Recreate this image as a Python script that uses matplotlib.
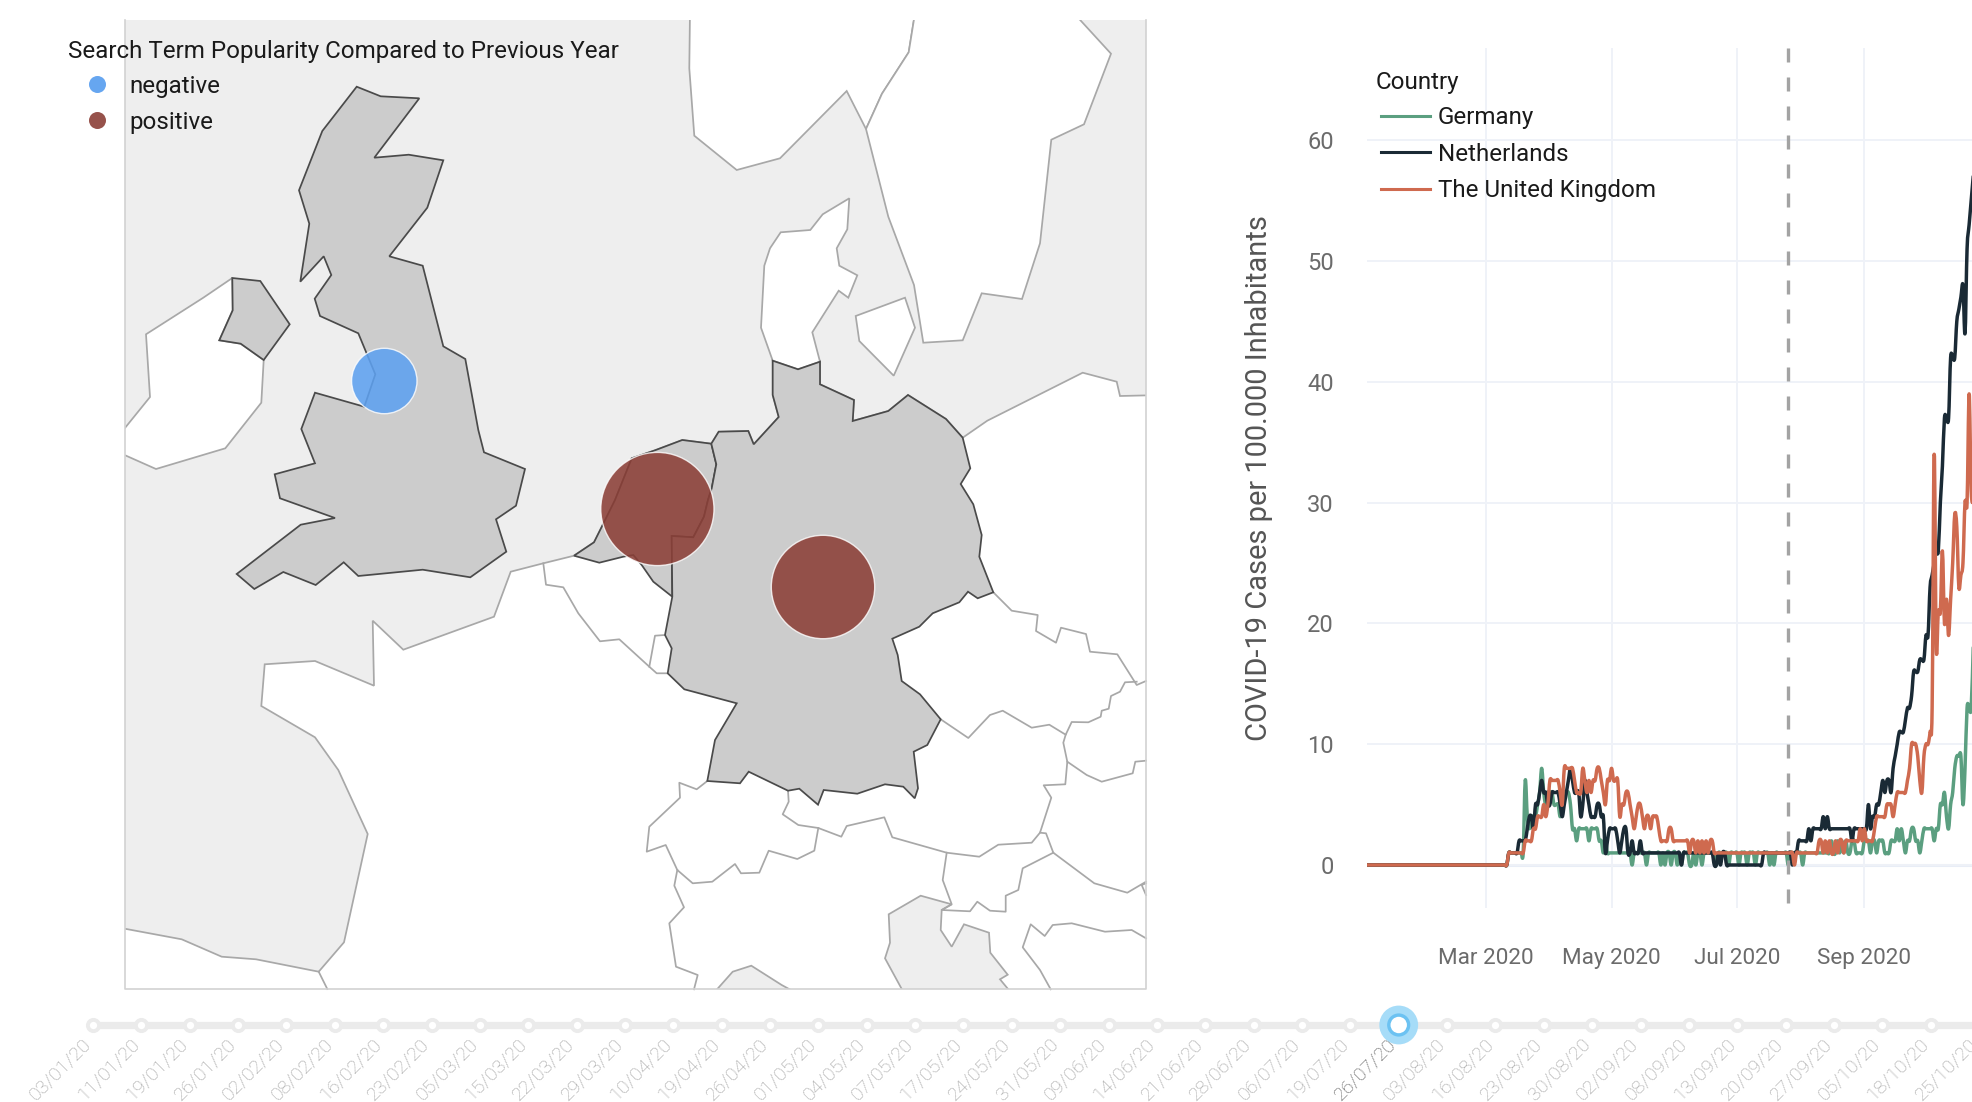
import matplotlib
matplotlib.use("Agg")
import matplotlib.pyplot as plt
import matplotlib.dates as mdates
import numpy as np
import pandas as pd
from matplotlib.patches import Circle, PathPatch, Polygon, Rectangle
from matplotlib.path import Path

plt.rcParams['font.family'] = ['Roboto', 'DejaVu Sans']

# covid cases per day from 1 March 2020, before that everything is 0
DAYS_BEFORE_MARCH = 58
germany_cases = [
    0, 0, 0, 0, 0, 0, 0, 0, 0, 0,
    0, 1, 1, 1, 1, 1, 1, 1, 1, 7,
    4, 3, 4, 4, 4, 5, 6, 8, 6, 5,
    6, 6, 6, 5, 5, 5, 4, 5, 6, 6,
    6, 5, 3, 3, 2, 3, 3, 3, 3, 3,
    2, 3, 3, 3, 3, 2, 2, 1, 2, 1,
    1, 1, 1, 1, 1, 1, 1, 1, 1, 1,
    1, 0, 1, 1, 1, 1, 1, 1, 0, 1,
    1, 1, 1, 1, 1, 0, 1, 0, 1, 1,
    0, 1, 1, 0, 1, 0, 1, 1, 1, 0,
    0, 1, 0, 1, 1, 0, 1, 1, 1, 1,
    1, 1, 0, 1, 1, 1, 1, 1, 0, 1,
    1, 1, 1, 0, 1, 1, 1, 0, 1, 1,
    1, 0, 1, 1, 1, 1, 1, 1, 0, 1,
    0, 1, 1, 1, 1, 1, 1, 0, 1, 1,
    1, 1, 1, 1, 0, 1, 1, 1, 1, 1,
    1, 1, 1, 1, 1, 1, 1, 1, 2, 1,
    1, 2, 1, 2, 1, 2, 1, 1, 2, 2,
    1, 1, 1, 1, 2, 2, 2, 1, 2, 2,
    1, 2, 2, 2, 1, 1, 1, 2, 2, 2,
    3, 2, 3, 2, 1, 2, 2, 3, 3, 2,
    2, 1, 2, 3, 3, 3, 3, 3, 2, 3,
    3, 5, 5, 6, 4, 3, 5, 6, 8, 9,
    9, 9, 5, 8, 13, 13, 13, 18,
]
netherlands_cases = [
    0, 0, 0, 0, 0, 0, 0, 0, 0, 0,
    0, 1, 1, 1, 1, 1, 2, 2, 2, 2,
    3, 4, 4, 3, 5, 5, 6, 7, 6, 6,
    5, 5, 6, 6, 6, 6, 5, 4, 5, 6,
    7, 8, 7, 6, 6, 6, 4, 5, 7, 6,
    5, 4, 4, 4, 5, 5, 4, 4, 1, 2,
    3, 3, 3, 3, 2, 1, 2, 3, 3, 1,
    1, 2, 1, 1, 1, 2, 1, 1, 1, 1,
    1, 1, 1, 1, 1, 1, 1, 1, 1, 1,
    1, 1, 1, 1, 1, 0, 1, 1, 1, 1,
    1, 1, 1, 1, 1, 1, 1, 1, 1, 1,
    1, 0, 0, 1, 0, 1, 1, 0, 0, 0,
    0, 0, 0, 0, 0, 0, 0, 0, 0, 0,
    0, 0, 0, 0, 0, 1, 1, 1, 1, 1,
    1, 1, 1, 1, 1, 1, 1, 1, 1, 0,
    1, 1, 2, 2, 2, 2, 2, 3, 2, 3,
    3, 3, 3, 3, 4, 3, 4, 3, 3, 3,
    3, 3, 3, 3, 3, 3, 3, 3, 2, 3,
    3, 3, 3, 3, 3, 3, 5, 3, 4, 4,
    5, 5, 6, 7, 6, 7, 7, 6, 8, 9,
    10, 11, 11, 11, 12, 13, 13, 14, 16, 16,
    16, 17, 17, 17, 19, 19, 23, 24, 25, 26,
    26, 30, 33, 37, 37, 37, 42, 42, 42, 45,
    46, 47, 48, 44, 51, 53, 55, 57,
]
uk_cases = [
    0, 0, 0, 0, 0, 0, 0, 0, 0, 0,
    0, 1, 1, 1, 1, 1, 1, 1, 1, 2,
    2, 2, 2, 3, 3, 4, 4, 4, 5, 4,
    5, 7, 7, 7, 7, 7, 6, 5, 8, 8,
    8, 8, 8, 7, 6, 6, 6, 8, 7, 6,
    7, 6, 7, 7, 8, 8, 7, 6, 5, 7,
    7, 8, 7, 7, 7, 4, 5, 5, 6, 6,
    5, 4, 3, 4, 5, 5, 4, 3, 4, 4,
    3, 4, 4, 4, 3, 2, 2, 2, 2, 3,
    3, 2, 2, 2, 2, 2, 2, 2, 2, 1,
    2, 2, 1, 2, 1, 2, 1, 2, 1, 2,
    2, 1, 1, 1, 1, 1, 1, 1, 1, 1,
    1, 1, 1, 1, 1, 1, 1, 1, 1, 1,
    1, 1, 1, 1, 1, 1, 1, 1, 1, 1,
    1, 1, 1, 1, 1, 1, 1, 1, 1, 1,
    0, 1, 1, 1, 1, 1, 1, 1, 1, 1,
    1, 1, 2, 2, 1, 2, 1, 2, 1, 1,
    2, 1, 2, 2, 1, 2, 2, 2, 2, 2,
    2, 2, 3, 2, 3, 2, 2, 2, 2, 3,
    4, 4, 4, 4, 4, 5, 5, 5, 4, 5,
    6, 6, 6, 6, 6, 7, 8, 10, 10, 10,
    9, 7, 6, 9, 10, 10, 11, 13, 34, 18,
    21, 21, 26, 20, 22, 19, 22, 25, 29, 28,
    23, 24, 25, 30, 30, 39, 31, 30,
]
countries = ['Germany', 'Netherlands', 'The United Kingdom']
y_ticks = [0, 10, 20, 30, 40, 50, 60]
x_ticks = ['2020-03-01', '2020-05-01', '2020-07-01', '2020-09-01']
x_tick_labels = ['Mar 2020', 'May 2020', 'Jul 2020', 'Sep 2020']

slider_labels = ['03/01/20', '11/01/20', '19/01/20', '26/01/20', '02/02/20', '08/02/20', '16/02/20', '23/02/20',
                 '05/03/20', '15/03/20', '22/03/20', '29/03/20', '10/04/20', '19/04/20', '26/04/20', '01/05/20',
                 '04/05/20', '07/05/20', '17/05/20', '24/05/20', '31/05/20', '09/06/20', '14/06/20', '21/06/20',
                 '28/06/20', '06/07/20', '19/07/20', '26/07/20', '03/08/20', '16/08/20', '23/08/20', '30/08/20',
                 '02/09/20', '08/09/20', '13/09/20', '20/09/20', '27/09/20', '05/10/20', '18/10/20', '25/10/20']
ACTIVE = 27

# map outlines, traced in picture pixels
uk = [(356.7, 86.7), (380.7, 96.3), (419.3, 98.3), (374.3, 157.7), (408.7, 154.7), (443.3, 160.3), (427.3, 207.7),
      (389.3, 256.3), (422.7, 265.7), (443.3, 346.3), (465.3, 359), (478.3, 430), (484, 452.3), (525, 469),
      (516, 505.7), (496, 519.3), (506.3, 551.7), (470.3, 577.3), (422.7, 569.7), (358.3, 576), (343.7, 562.3),
      (315.7, 585), (283.3, 572), (254.3, 589), (236.7, 574), (300.7, 524.7), (335, 518), (280, 498.3),
      (274.7, 474.3), (315, 463.3), (301.3, 429), (315, 392.7), (364.3, 406.7), (375.3, 374.3), (358.3, 333.3),
      (320, 316), (314.7, 298.7), (331.3, 275), (323.7, 256.3), (300.3, 281.7), (309.3, 223.7), (299, 190.3),
      (322.3, 131)]
n_ireland = [(232.3, 278), (260.3, 281), (289.7, 324.3), (263.7, 360), (240.7, 343.7), (219.3, 340.3), (232.7, 310.3)]
ireland = [(232.3, 278), (203.3, 297.7), (146, 334.3), (150, 397), (124.7, 428.3), (120, 434), (120, 453), (156, 469),
           (225.3, 448.3), (261.3, 402.7), (263.7, 360), (240.7, 343.7), (219.3, 340.3), (232.7, 310.3)]
norway = [(690, 10), (689.3, 68.3), (694.3, 135.7), (736.7, 170), (780, 158.3), (846.7, 91), (866, 129),
          (882, 93.7), (908.7, 52.3), (915.5, 10)]
sweden = [(866, 129), (888.3, 216.7), (914, 285), (923.3, 342.7), (962.7, 340.3), (981.7, 293.3), (1022, 299),
          (1040, 243.3), (1051.3, 139.7), (1084, 124.3), (1111, 53.7), (1071, 10), (915.5, 10), (908.7, 52.3),
          (882, 93.7)]
denmark = [(772.7, 360.7), (761, 327.7), (764.3, 265.7), (770, 248.3), (780.7, 232.3), (810.3, 230), (822.7, 214.3),
           (849.3, 198.3), (847.3, 229.3), (836.7, 248.3), (839.3, 265.7), (857.3, 275.3), (848.3, 297.7),
           (838.7, 290.7), (812.3, 332.3), (820, 361.7), (798, 369.3)]
zealand = [(855.7, 316), (905, 297.7), (915, 327.7), (893.7, 375.7), (859.3, 341)]
germany = [(772.7, 360.7), (798, 369.3), (820, 361.7), (820, 384.3), (854, 400), (852.7, 421), (888.3, 411),
           (908, 395), (946, 419), (962.7, 437.7), (970.3, 468.3), (960.7, 484), (973.3, 504.3), (981.7, 535),
           (979.3, 556.7), (993.3, 592.3), (977.7, 598.3), (968, 591.7), (959.3, 602.3), (932.7, 613.3),
           (919.3, 626.7), (892.3, 638.7), (897.7, 655), (901.7, 681), (920, 694.3), (940.7, 719.3), (927.3, 745),
           (913.7, 751.7), (918, 788.3), (914.7, 798.3), (903.3, 786.7), (885, 784.3), (857.3, 793.7), (823.7, 790),
           (818, 804.7), (799.3, 788.7), (788, 790.7), (748.7, 771.7), (740, 783.3), (707.3, 781), (715, 740),
           (736.7, 703.3), (684.3, 689.3), (667.7, 673.3), (671.7, 648.3), (665, 635), (672.3, 596.7), (671.7, 536),
           (693.3, 537.3), (704, 516.7), (708, 500), (711.7, 488.3), (716.3, 464.3), (711.3, 443.7), (718.7, 431.7),
           (748.3, 431), (753.7, 444.3), (778.7, 417), (772.7, 395)]
netherlands = [(711.3, 443.7), (682.3, 440), (655, 450.3), (631.7, 458.3), (615, 500), (601, 528.3), (594, 542.3),
               (574, 555.7), (599.3, 562.7), (623.3, 556.7), (633.3, 555), (641.7, 565), (653.3, 581.7),
               (672.3, 596.7), (671.7, 536), (693.3, 537.3), (704, 516.7), (708, 500), (711.7, 488.3), (716.3, 464.3)]
continent = [(120, 995), (120, 928), (124.7, 928.7), (181.7, 939.3), (221.7, 956.7), (256, 959.3), (318.7, 971.7),
             (344, 942.3), (367.7, 834), (338.3, 770), (315, 737.3), (261.3, 706), (264.7, 664.3), (315, 661),
             (374, 685.7), (372.7, 620.7), (403.3, 649.7), (494, 616.7), (510.7, 571.7), (543.3, 563.3), (574, 555.7),
             (594, 542.3), (601, 528.3), (615, 500), (631.7, 458.3), (655, 450.3), (682.3, 440), (711.3, 443.7),
             (718.7, 431.7), (748.3, 431), (753.7, 444.3), (778.7, 417), (772.7, 395), (772.7, 360.7), (798, 369.3),
             (820, 361.7), (820, 384.3), (854, 400), (852.7, 421), (888.3, 411), (908, 395), (946, 419),
             (962.7, 437.7), (987.3, 420.7), (1082.7, 372.7), (1116.7, 381.7), (1120, 396), (1150, 395.3), (1150, 995)]
gulf_lion = [(712, 995), (732.7, 971.7), (751.3, 965.7), (781.7, 985), (800, 995)]
adriatic = [(905, 995), (885, 958.3), (890, 942.7), (888.7, 914.3), (920.7, 895.7), (951.7, 904.3), (941.7, 910),
            (940.7, 930), (951.7, 946.7), (964, 924.3), (989, 932.7), (990.3, 952.7), (1007.7, 974.7), (1000, 979.3),
            (1013, 995)]
borders = [
    [(543.3, 563.3), (546, 584.7), (563.3, 587.3), (578.3, 613.3), (600, 641.3), (619.3, 639.3), (649.3, 666.7),
     (656.7, 673.3), (667.7, 673.3)],
    [(649.3, 666.7), (655, 635.7), (665, 635)],
    [(993.3, 592.3), (1011.7, 610.7), (1037.7, 615), (1036, 631), (1056, 642.7), (1061, 627.7), (1086, 634),
     (1090, 651.7), (1117.3, 654.3), (1136.7, 685), (1146, 681)],
    [(940.7, 719.3), (968.3, 738), (990, 715), (1002.7, 710.7), (1031.7, 727.7), (1049.3, 724.7), (1065.7, 734.7),
     (1071.7, 722), (1088.3, 722.3), (1100.7, 716.7), (1101.7, 710.7), (1108.7, 708.7), (1111, 696), (1120, 691.7),
     (1125, 682.3), (1136.7, 681.7)],
    [(1065.7, 734.7), (1063.3, 742.7), (1067.3, 761.7), (1065.3, 784.3), (1043.7, 785.3), (1051.3, 797.7),
     (1040, 832.7), (1031.7, 842.7), (998.3, 844.7), (979.3, 856.7), (946.7, 852.7), (892.3, 837.3), (884.3, 817.3),
     (846.7, 826), (841.3, 836.7), (818.3, 828), (798.3, 825), (782.7, 814.3), (788.7, 801.7), (788, 790.7)],
    [(1067.3, 761.7), (1086.7, 775), (1101.7, 781.7), (1132.7, 773.3), (1135.3, 761.7), (1146, 760.7)],
    [(1040, 832.7), (1046, 833.3), (1053.3, 852.7), (1094.3, 883.3), (1127.3, 892.7), (1146, 881.7)],
    [(946.7, 852.7), (942.7, 880), (951.7, 904.3), (941.7, 910), (970, 911.3), (977.3, 901.7), (990, 910.7),
     (1005.7, 911.7), (1005.7, 895.7), (1018.3, 890), (1022.7, 868.3), (1053.3, 852.7)],
    [(1050.7, 989.3), (1040, 970), (1022.7, 947.3), (1030.7, 924.3), (1044.7, 936), (1052.7, 925), (1071.7, 923.3),
     (1105, 931.7), (1131.7, 930), (1146, 938.3)],
    [(1146, 883.3), (1141.7, 885), (1146, 895)],
    [(707.3, 781), (696.7, 789.3), (679.3, 782.7), (680, 797.7), (649.3, 826.7), (646.7, 851.7), (665.7, 845),
     (677.3, 870), (692.7, 883.3), (712.3, 881.7), (735, 864), (741, 873.3), (759.3, 872.7), (768.7, 850.7),
     (797.3, 859), (814.3, 850.7), (818.3, 828)],
    [(677.3, 870), (674.3, 885.7), (684, 907.3), (669.3, 923.3), (676, 966.7), (697.7, 975), (694, 989.3)],
    [(318.7, 971.7), (327.3, 989)],
]
# bubbles: x, y, radius
bubble_negative = [(384.3, 381, 32.7)]
bubble_positive = [(657.4, 509, 56.6), (823, 587, 51.7)]

SEA = '#eeeeee'
LINE = '#a8a8a8'
DARK_LINE = '#4a4a4a'
SELECTED = '#cccccc'
BLUE = '#5ea1f0'
RED = '#8b3f37'
COLORS = ['#5b9f80', '#1a2a35', '#cf6a4f']
GRID = '#eff2f8'
TEXT = '#1a1a1a'


def spline_patch(x, y, color):
    # smooth line like the plotly spline shape
    pts = np.column_stack([x, y])
    verts = [pts[0]]
    codes = [Path.MOVETO]
    for i in range(len(pts) - 1):
        p0 = pts[max(i - 1, 0)]
        p1 = pts[i]
        p2 = pts[i + 1]
        p3 = pts[min(i + 2, len(pts) - 1)]
        verts += [p1 + (p2 - p0) / 6, p2 - (p3 - p1) / 6, p2]
        codes += [Path.CURVE4] * 3
    return PathPatch(Path(verts, codes), fill=False, edgecolor=color, lw=2.5, joinstyle='round', capstyle='round')


W, H = 1972, 1102
fig = plt.figure(figsize=(W / 100, H / 100), dpi=100)

# line chart
ax = fig.add_axes([1367 / W, 1 - 908 / H, (W - 1367) / W, (908 - 48) / H])
dates = pd.date_range('2020-01-03', periods=DAYS_BEFORE_MARCH + len(uk_cases))
x = mdates.date2num(dates)
for values, color in zip([germany_cases, netherlands_cases, uk_cases], COLORS):
    y = [0] * DAYS_BEFORE_MARCH + values
    ax.add_patch(spline_patch(x, y, color))
ax.set_xlim(x[0], x[0] + 294.4)
ax.set_ylim(-3.56, 67.63)
ax.set_xticks(mdates.date2num(pd.to_datetime(x_ticks)))
ax.set_xticklabels(x_tick_labels)
ax.set_yticks(y_ticks)
ax.grid(True, color=GRID, lw=1.4)
ax.set_axisbelow(True)
ax.axhline(0, color='#e8edf6', lw=2.2, zorder=0)
event_x = mdates.date2num(pd.Timestamp('2020-07-26'))
ax.plot([event_x, event_x], [67.63, -3.56], color='#a3a3a3', lw=2.4, dashes=(4.2, 4.5), zorder=3)
ax.set_ylim(-3.56, 67.63)
for s in ax.spines.values():
    s.set_visible(False)
ax.tick_params(axis='both', length=0, labelcolor='#6b6b6b', labelsize=17)
ax.tick_params(axis='x', pad=28.5, labelsize=16.2)
ax.tick_params(axis='y', pad=24)
ax.set_ylabel('COVID-19 Cases per 100.000 Inhabitants', fontsize=20.9, color='#555555')
ax.yaxis.set_label_coords((1273 - 1367) / (W - 1367), (908 - 478) / (908 - 48))

# map, legends and slider are laid out in picture pixels
ov = fig.add_axes([0, 0, 1, 1], facecolor='none')
ov.set_xlim(0, W)
ov.set_ylim(H, 0)
ov.axis('off')

map_box = Rectangle((124.7, 20), 1021.3, 969, facecolor=SEA, edgecolor='none', zorder=0)
ov.add_patch(map_box)
for shape in [continent, ireland, norway, sweden, denmark, zealand]:
    ov.add_patch(Polygon(shape, facecolor='white', edgecolor=LINE, lw=1.25, zorder=1)).set_clip_path(map_box)
for shape in [gulf_lion, adriatic]:
    ov.add_patch(Polygon(shape, facecolor=SEA, edgecolor=LINE, lw=1.25, zorder=1.1)).set_clip_path(map_box)
for line in borders:
    xs, ys = zip(*line)
    ov.plot(xs, ys, color=LINE, lw=1.25, zorder=1.2)
for shape in [netherlands, germany, uk, n_ireland]:
    ov.add_patch(Polygon(shape, facecolor=SELECTED, edgecolor=DARK_LINE, lw=1.25, zorder=2))
ov.plot([124.7, 124.7, 1146, 1146], [20, 989, 989, 20], color='#d2d2d2', lw=1.2, zorder=2.1)
for bubbles, color, alpha in [(bubble_negative, BLUE, 0.88), (bubble_positive, RED, 0.88)]:
    for bx, by, br in bubbles:
        ov.add_patch(Circle((bx, by), br, facecolor=color, edgecolor='none', alpha=alpha, zorder=3))
        ov.add_patch(Circle((bx, by), br, facecolor='none', edgecolor='white', lw=1.0, alpha=0.8, zorder=3.1))

# map legend
FS = 17.4
ov.text(68, 51.5, 'Search Term Popularity Compared to Previous Year', fontsize=FS, color=TEXT, va='center', zorder=5)
ov.scatter([97], [83.5], s=150, color=BLUE, alpha=0.95, linewidths=0, zorder=5)
ov.scatter([97], [120], s=150, color=RED, alpha=0.9, linewidths=0, zorder=5)
ov.text(129.5, 87, 'negative', fontsize=FS, color=TEXT, va='center', zorder=5)
ov.text(129.5, 123, 'positive', fontsize=FS, color=TEXT, va='center', zorder=5)

# chart legend
ov.text(1376, 83, 'Country', fontsize=FS, color=TEXT, va='center', zorder=5)
for name, color, ly in zip(countries, COLORS, [115.5, 152, 188.5]):
    ov.plot([1381, 1430], [ly, ly], color=color, lw=2.2, zorder=5)
    ov.text(1437.5, ly + 2.2, name, fontsize=FS, color=TEXT, va='center', zorder=5)

# time slider
tick_x = 93 + 48.36 * np.arange(len(slider_labels))
ov.plot([93, W], [1025, 1025], color='#ebebeb', lw=5.2, solid_capstyle='round', zorder=1)
ov.scatter(tick_x, [1025] * len(tick_x), s=65, facecolor='white', edgecolor='#ebebeb', linewidths=2.8, zorder=2)
for i, label in enumerate(slider_labels):
    ov.text(tick_x[i] - 61, 1097, label, rotation=45, rotation_mode='anchor', ha='left', va='center',
            fontsize=14, fontweight='light', color='#5c5c5c' if i == ACTIVE else '#a2a2a2', clip_on=True, zorder=2)
ov.add_patch(Circle((tick_x[ACTIVE], 1025), 19.4, facecolor='#a6dcf8', edgecolor='none', zorder=3))
ov.add_patch(Circle((tick_x[ACTIVE], 1025), 11.6, facecolor='#6cc2f2', edgecolor='none', zorder=3.1))
ov.add_patch(Circle((tick_x[ACTIVE], 1025), 8.2, facecolor='white', edgecolor='none', zorder=3.2))

fig.savefig('out.png', dpi=100)
